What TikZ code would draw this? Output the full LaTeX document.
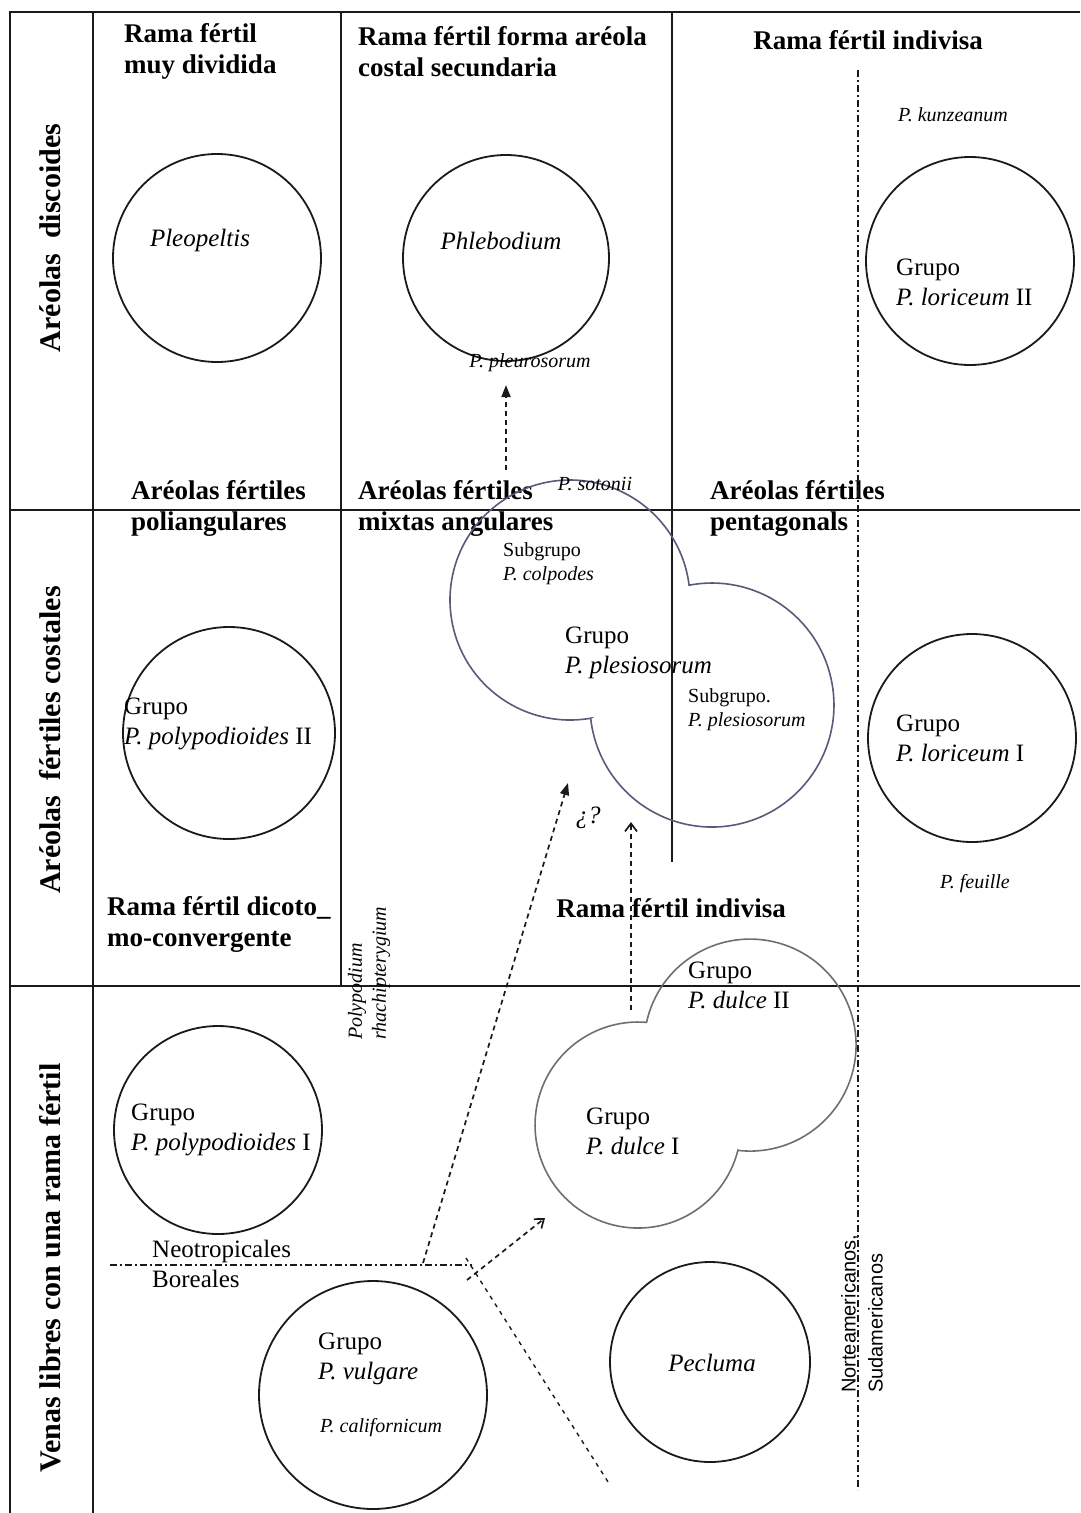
\documentclass[tikz,border=0pt]{standalone}
\usepackage{fontspec}
\setmainfont{Liberation Serif}
\setsansfont{Liberation Sans}
\usetikzlibrary{arrows.meta}
\definecolor{polInk}{HTML}{1A1A1A}
\definecolor{polSlate}{HTML}{555B78}
\definecolor{polGray}{HTML}{6E6E6E}
\tikzset{
  pol frame/.style={draw=polInk, line width=2.6pt},
  pol grid/.style={draw=polInk, line width=2pt},
  pol circle/.style={circle, draw=polInk, line width=1.8pt, minimum size=#1, inner sep=0pt},
  pol blob/.style={line width=1.6pt},
  pol region/.style={draw=polInk, line width=1.3pt, dash pattern=on 7pt off 3pt on 2pt off 3pt},
  pol dashed/.style={draw=polInk, line width=1.7pt, dash pattern=on 5pt off 4pt},
  pol head/.style={font=\fontsize{27}{31}\selectfont\bfseries, align=left, anchor=west, inner sep=0pt},
  pol row/.style={font=\fontsize{30}{36}\selectfont\bfseries, rotate=90, inner sep=0pt},
  pol text/.style={font=\fontsize{25}{30}\selectfont, align=left, anchor=west, inner sep=0pt},
  pol small/.style={font=\fontsize{20}{24}\selectfont, align=left, inner sep=0pt},
}

\begin{document}
\begin{tikzpicture}[x=1pt, y=-1pt]
  \useasboundingbox (0,0) rectangle (1080,1513);
  % Table frame and cells
  \draw[pol frame] (10,1513) -- (10,12) -- (1080,12);
  \draw[pol grid] (93,12) -- (93,1513);
  \draw[pol grid] (341,12) -- (341,986);
  \draw[pol grid] (672,12) -- (672,862);
  \draw[pol grid] (10,510) -- (1080,510);
  \draw[pol grid] (10,986) -- (1080,986);
  % Row labels
  \node[pol row] (rowDisc) at (50,238) {Aréolas~ discoides};
  \node[pol row] (rowCost) at (50,740) {Aréolas~ fértiles costales};
  \node[pol row] (rowVenas) at (50,1268) {Venas libres con una rama fértil};
  % Column headers
  \node[pol head] (hMuy) at (124,51) {Rama fértil\\muy dividida};
  \node[pol head] (hForma) at (358,52) {Rama fértil forma aréola\\costal secundaria};
  \node[pol head, anchor=center] (hIndiv) at (868,40) {Rama fértil indivisa};
  \node[pol head] (hPoli) at (131,508) {Aréolas fértiles\\poliangulares};
  \node[pol head] (hMixtas) at (358,508) {Aréolas fértiles\\mixtas angulares};
  \node[pol head] (hPenta) at (710,508) {Aréolas fértiles\\pentagonals};
  \node[pol head] (hDicot) at (107,924) {Rama fértil dicoto\_\\mo-convergente};
  \node[pol head, anchor=center] (hIndivB) at (671,908) {Rama fértil indivisa};
  % Single groups
  \node[pol circle=208pt] (cPleo) at (217,258) {};
  \node[pol circle=206pt] (cPhleb) at (506,258) {};
  \node[pol circle=208pt] (cLorII) at (970,261) {};
  \node[pol circle=212pt] (cPolyII) at (229,733) {};
  \node[pol circle=208pt] (cLorI) at (972,738) {};
  \node[pol circle=208pt] (cPolyI) at (218,1130) {};
  \node[pol circle=228pt] (cVulg) at (373,1395) {};
  \node[pol circle=200pt] (cPecl) at (710,1362) {};
  % Double groups
  \draw[pol blob, draw=polSlate] (590.7,718.2) arc[start angle=80.07, end angle=352.92, radius=120]
    arc[start angle=-100.8, end angle=173.8, radius=122] -- cycle;
  \draw[pol blob, draw=polGray] (737.9,1150.3) arc[start angle=14.21, end angle=274.73, radius=103]
    arc[start angle=192.37, end angle=456.56, radius=106] -- cycle;
  % Group names
  \node[pol text, anchor=center] (tPleo) at (200,240) {\textit{Pleopeltis}};
  \node[pol text, anchor=center] (tPhleb) at (501,241) {\textit{Phlebodium}};
  \node[pol text] (tLorII) at (896,282) {Grupo\\\textit{P. loriceum} II};
  \node[pol text] (tPolyII) at (124,724) {Grupo\\\textit{P. polypodioides} II};
  \node[pol text] (tLorI) at (896,738) {Grupo\\\textit{P. loriceum} I};
  \node[pol text] (tPles) at (565,653) {Grupo\\\textit{P. plesiosorum}};
  \node[pol text] (tDulII) at (688,985) {Grupo\\\textit{P. dulce} II};
  \node[pol text] (tDulI) at (586,1131) {Grupo\\\textit{P. dulce} I};
  \node[pol text] (tPolyI) at (131,1130) {Grupo\\\textit{P. polypodioides} I};
  \node[pol text] (tVulg) at (318,1359) {Grupo\\\textit{P. vulgare}};
  \node[pol text, anchor=center] (tPecl) at (712,1363) {\textit{Pecluma}};
  \node[pol text] (tNeo) at (152,1264) {Neotropicales\\Boreales};
  % Species and subgroups
  \node[pol small] (sPleur) at (530,363) {\textit{P. pleurosorum}};
  \node[pol small] (sKunz) at (953,115) {\textit{P. kunzeanum}};
  \node[pol small] (sSoto) at (595,484) {\textit{P. sotonii}};
  \node[pol small, anchor=west] (sColp) at (503,564) {Subgrupo\\\textit{P. colpodes}};
  \node[pol small, anchor=west] (sPles) at (688,710) {Subgrupo.\\\textit{P. plesiosorum}};
  \node[pol small] (sFeui) at (975,884) {\textit{P. feuille}};
  \node[pol small] (sCalif) at (381,1428) {\textit{P. californicum}};
  \node[pol small, rotate=90, anchor=west] (sRhach) at (369,1040) {\textit{Polypodium}\\\textit{rhachipterygium}};
  \node[pol small, font=\sffamily\fontsize{20}{27}\selectfont, rotate=90, anchor=west] (sAmer) at (862,1393) {Norteamericanos,\\Sudamericanos};
  \node[pol text, anchor=center] (tDuda) at (588,818) {\textit{¿?}};
  % Geographic limits
  \draw[pol region] (858,70) -- (858,1490);
  \coordinate (neoStart) at (110,1265);
  \coordinate (neoEnd) at (472,1265);
  \draw[pol region] (neoStart) -- (neoEnd);
  % Relations
  \coordinate (fork) at (466,1258);
  \coordinate (forkEnd) at (610,1485);
  \draw[pol dashed, line width=1.4pt, dash pattern=on 4pt off 5pt] (fork) -- (forkEnd);
  \coordinate (toDulTail) at (467,1280);
  \coordinate (toDulTip) at (545,1218);
  \draw[pol dashed, -{Straight Barb[length=8pt, width=12pt]}] (toDulTail) -- (toDulTip);
  \coordinate (rhachTail) at (423,1263);
  \coordinate (rhachTip) at (568,783);
  \draw[pol dashed, -{Triangle[length=12pt, width=9pt]}] (rhachTail) -- (rhachTip);
  \coordinate (dulTail) at (631,1010);
  \coordinate (dulTip) at (631,822);
  \draw[pol dashed, -{Straight Barb[length=8pt, width=12pt]}] (dulTail) -- (dulTip);
  \coordinate (pleurTail) at (506,470);
  \coordinate (pleurTip) at (506,385);
  \draw[pol dashed, -{Triangle[length=12pt, width=9pt]}] (pleurTail) -- (pleurTip);
\end{tikzpicture}
\end{document}
